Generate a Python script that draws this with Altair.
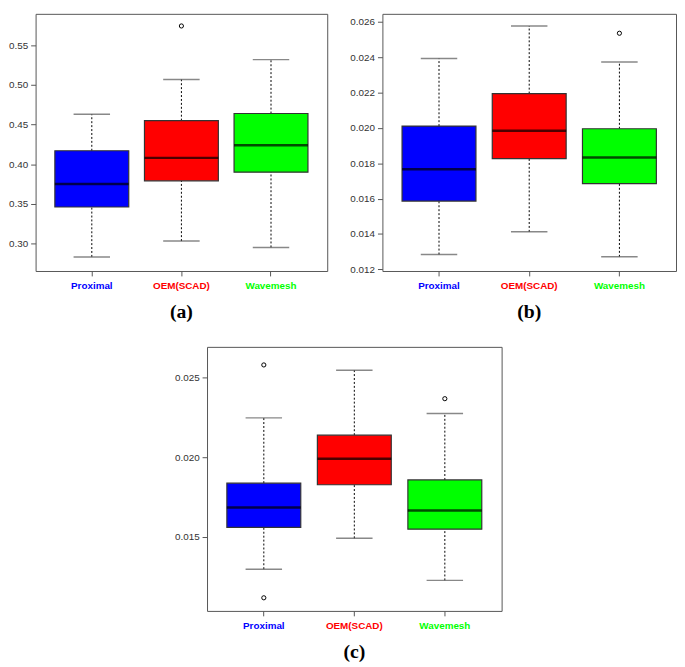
import altair as alt
import pandas as pd

cats = ["Proximal", "OEM(SCAD)", "Wavemesh"]
colors = ["#0000FF", "#FF0000", "#00FF00"]

# Panel (a)
a_low = [0.283, 0.303, 0.295]
a_q1 = [0.346, 0.379, 0.390]
a_med = [0.375, 0.408, 0.424]
a_q3 = [0.417, 0.455, 0.464]
a_high = [0.463, 0.507, 0.532]
a_out_cat = ["OEM(SCAD)"]
a_out_val = [0.5745]

# Panel (b)
b_low = [0.01284, 0.01412, 0.01271]
b_q1 = [0.01586, 0.01826, 0.01685]
b_med = [0.01766, 0.01984, 0.01833]
b_q3 = [0.02010, 0.02194, 0.01995]
b_high = [0.02392, 0.02576, 0.02372]
b_out_cat = ["Wavemesh"]
b_out_val = [0.02535]

# Panel (c)
c_low = [0.01299, 0.01492, 0.01229]
c_q1 = [0.01560, 0.01827, 0.01549]
c_med = [0.01685, 0.01989, 0.01666]
c_q3 = [0.01837, 0.02137, 0.01857]
c_high = [0.02245, 0.02543, 0.02272]
c_out_cat = ["Proximal", "Proximal", "Wavemesh"]
c_out_val = [0.02576, 0.01120, 0.02365]

a_ticks = [0.30, 0.35, 0.40, 0.45, 0.50, 0.55]
b_ticks = [0.012, 0.014, 0.016, 0.018, 0.020, 0.022, 0.024, 0.026]
c_ticks = [0.015, 0.020, 0.025]


def panel(low, q1, med, q3, high, oc, ov, domain, ticks, fmt, w, h, label):
    df = pd.DataFrame({"cat": cats, "low": low, "q1": q1, "med": med,
                       "q3": q3, "high": high})
    odf = pd.DataFrame({"cat": oc, "val": ov})
    label_color = {
        "condition": [
            {"test": "datum.value === 'Proximal'", "value": colors[0]},
            {"test": "datum.value === 'OEM(SCAD)'", "value": colors[1]},
        ],
        "value": colors[2],
    }
    x = alt.X("cat:N", sort=cats,
              scale=alt.Scale(domain=cats, paddingInner=0.185, paddingOuter=0.22),
              axis=alt.Axis(title=None, labelAngle=0, labelFont="Liberation Sans",
                            labelFontWeight="bold", labelFontSize=10,
                            labelColor=label_color, tickColor="#555", tickSize=5,
                            labelPadding=5, domain=False))
    ys = alt.Scale(domain=domain, nice=False, zero=False)
    yax = alt.Axis(title=None, values=ticks, tickCount=len(ticks) + 2, format=fmt,
                   grid=False, domain=False,
                   tickColor="#555", tickSize=5, labelColor="#333",
                   labelOverlap=False, labelFlush=False,
                   labelFont="Liberation Sans", labelFontSize=10, labelPadding=3)
    base = alt.Chart(df)
    wl = base.mark_rule(color="black", strokeDash=[2, 2], strokeWidth=1).encode(
        x=x, y=alt.Y("low:Q", scale=ys, axis=yax), y2="q1:Q")
    wu = base.mark_rule(color="black", strokeDash=[2, 2], strokeWidth=1).encode(
        x=x, y=alt.Y("q3:Q", scale=ys, axis=yax), y2="high:Q")
    cl = base.mark_tick(color="#555", size=37, thickness=1.5).encode(
        x=x, y=alt.Y("low:Q", scale=ys, axis=yax))
    ch = base.mark_tick(color="#555", size=37, thickness=1.5).encode(
        x=x, y=alt.Y("high:Q", scale=ys, axis=yax))
    box = base.mark_bar(size=75, stroke="#333", strokeWidth=1.2).encode(
        x=x, y=alt.Y("q1:Q", scale=ys, axis=yax), y2="q3:Q",
        color=alt.Color("cat:N", scale=alt.Scale(domain=cats, range=colors),
                        legend=None))
    md = base.mark_tick(color="black", size=75, thickness=2.5).encode(
        x=x, y=alt.Y("med:Q", scale=ys, axis=yax))
    out = alt.Chart(odf).mark_point(shape="circle", filled=False, color="black",
                                    size=18, strokeWidth=1, opacity=1).encode(
        x=x, y=alt.Y("val:Q", scale=ys, axis=yax))
    return alt.layer(wl, wu, cl, ch, box, md, out).properties(
        width=w, height=h,
        title=alt.TitleParams(label, orient="bottom", font="Liberation Serif",
                              fontSize=20, fontWeight="bold", color="black",
                              offset=12))


A = panel(a_low, a_q1, a_med, a_q3, a_high, a_out_cat, a_out_val,
          [0.2652, 0.5898], a_ticks, ".2f", 296, 261, "(a)")
B = panel(b_low, b_q1, b_med, b_q3, b_high, b_out_cat, b_out_val,
          [0.011907, 0.026447], b_ticks, ".3f", 298, 261, "(b)")
C = panel(c_low, c_q1, c_med, c_q3, c_high, c_out_cat, c_out_val,
          [0.01038, 0.02689], c_ticks, ".3f", 299, 268, "(c)")

spacer = alt.Chart(pd.DataFrame({"s": [0]})).mark_point(opacity=0).encode(
    x=alt.X("s:Q", axis=None), y=alt.Y("s:Q", axis=None)
).properties(width=140, height=1, view=alt.ViewBackground(strokeOpacity=0))

top = alt.hconcat(A, B, spacing=21)
bottom = alt.hconcat(spacer, C, spacing=0)
chart = alt.vconcat(top, bottom, spacing=21).configure_view(
    stroke="#555", strokeWidth=1
).properties(padding={"left": 0, "top": 0, "right": 0, "bottom": 0})

chart.save("out.html", embed_options={"renderer": "svg", "actions": False})
